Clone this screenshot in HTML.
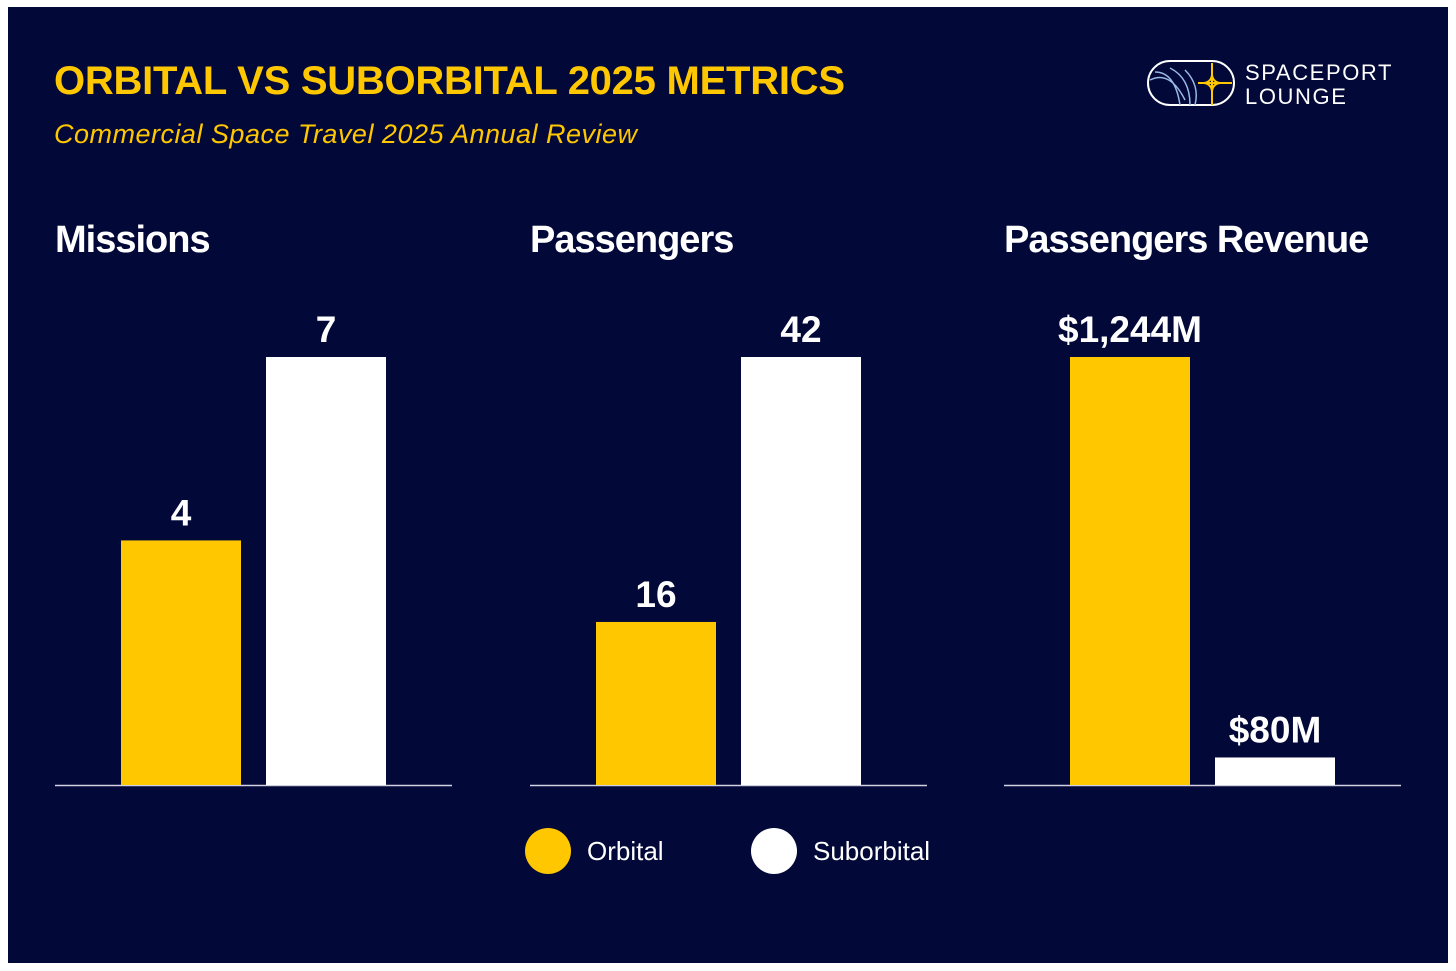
<!DOCTYPE html>
<html><head><meta charset="utf-8"><style>
body{margin:0;width:1456px;height:971px;background:#fff;overflow:hidden;font-family:"Liberation Sans",sans-serif}
#bg{position:absolute;left:8px;top:7px;width:1440px;height:956px;background:#020838}
</style></head><body>
<div id="bg"></div>
<svg width="1456" height="971" style="position:absolute;left:0;top:0" id="svg">
<text x="54" y="94" fill="#FFC700" font-size="40" font-weight="bold" textLength="791">ORBITAL VS SUBORBITAL 2025 METRICS</text>
<text x="54" y="143" fill="#FFC700" font-size="27" font-style="italic" textLength="583">Commercial Space Travel 2025 Annual Review</text>
<g>
<rect x="1148" y="61" width="86" height="44" rx="22" fill="none" stroke="#fff" stroke-width="2"/>
<path d="M1150 80 q20 -10 35 20 M1155 72 q20 0 25 33 M1170 68 q20 10 20 37 M1185 70 q15 15 10 35" fill="none" stroke="#9ab8e6" stroke-width="1.5"/>
<path d="M1212 63 L1212 105 M1198 83 L1232 83" stroke="#FFC700" stroke-width="2"/>
<path d="M1212 75 Q1213 82 1220 83 Q1213 84 1212 91 Q1211 84 1204 83 Q1211 82 1212 75Z" fill="none" stroke="#FFC700" stroke-width="2"/>
<text x="1245" y="80" fill="#fff" font-size="22" letter-spacing="1.6">SPACEPORT</text>
<text x="1245" y="104" fill="#fff" font-size="22" letter-spacing="1.6">LOUNGE</text>
</g>
<g>
<circle cx="548" cy="851" r="23" fill="#FFC700"/>
<text x="587" y="860" fill="#fff" font-size="26">Orbital</text>
<circle cx="774" cy="851" r="23" fill="#fff"/>
<text x="813" y="860" fill="#fff" font-size="26">Suborbital</text>
</g>
</svg>
<script>
const panelTitles=["Missions","Passengers","Passengers Revenue"];
const orbitalValues=[4,16,1244];
const suborbitalValues=[7,42,80];
const orbitalLabels=["4","16","$1,244M"];
const suborbitalLabels=["7","42","$80M"];
const svg=document.getElementById('svg');
const NS='http://www.w3.org/2000/svg';
const baseY=785,maxH=428,panelX=[55,530,1004];
function mk(t,a){const e=document.createElementNS(NS,t);for(const k in a)e.setAttribute(k,a[k]);svg.appendChild(e);return e;}
function yScale(v,max){return maxH*v/max;}
panelTitles.forEach((t,i)=>{
  const x0=panelX[i];
  const max=Math.max(orbitalValues[i],suborbitalValues[i]);
  const tt=mk('text',{x:x0,y:252,fill:'#fff','font-size':38,'font-weight':'bold','letter-spacing':'-1'});
  tt.textContent=t;
  
  
  const ax=mk('line',{x1:x0,x2:x0+397,y1:baseY+0.5,y2:baseY+0.5,stroke:'#cfd2e0','stroke-width':1.5});
  
  
  [[orbitalValues[i],orbitalLabels[i],'#FFC700',66,'orbital'],[suborbitalValues[i],suborbitalLabels[i],'#fff',211,'suborbital']].forEach(([v,l,c,off,n])=>{
    const h=yScale(v,max);
    const r=mk('rect',{x:x0+off,y:baseY-h,width:120,height:h,fill:c});
    
    
    const lt=mk('text',{x:x0+off+60,y:baseY-h-15,fill:'#fff','font-size':37,'font-weight':'bold','text-anchor':'middle'});
    lt.textContent=l;
    
    
  });
});
</script>
</body></html>
